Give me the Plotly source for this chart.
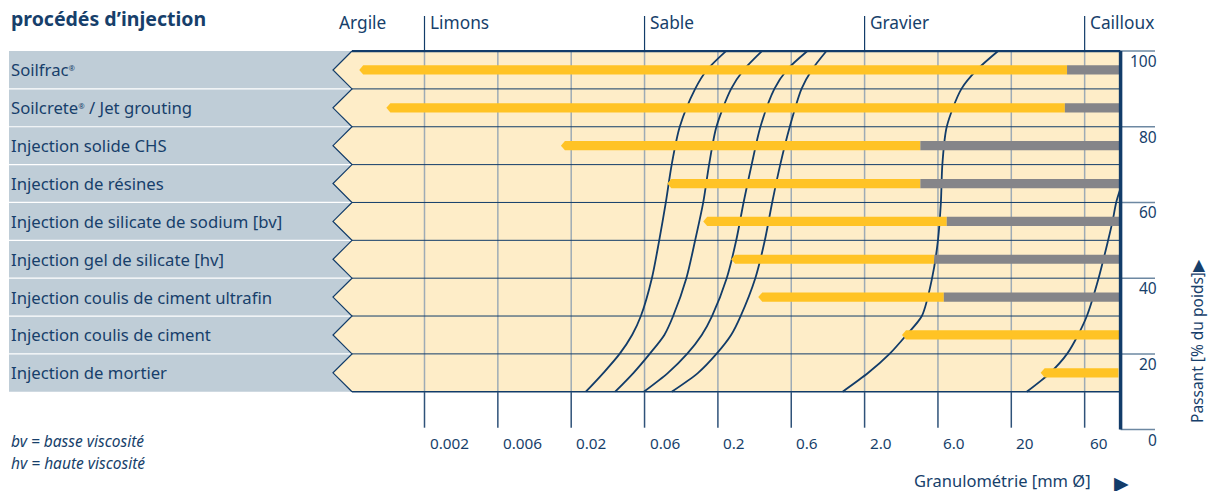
import plotly.graph_objects as go

# ---------------- data ----------------
SUP = "<span style='font-size:11px'><sup>®</sup></span>"
procedes = [
    "Soilfrac" + SUP,
    "Soilcrete" + SUP + " / Jet grouting",
    "Injection solide CHS",
    "Injection de résines",
    "Injection de silicate de sodium [bv]",
    "Injection gel de silicate [hv]",
    "Injection coulis de ciment ultrafin",
    "Injection coulis de ciment",
    "Injection de mortier",
]
# positions on the grain-size scale (0 = tick 0.002 mm, 1 = tick 0.006 mm, ...)
debut_jaune = [-0.89, -0.52, 1.86, 3.31, 3.80, 4.18, 4.55, 6.51, 8.40]
fin_jaune = [8.76, 8.73, 6.76, 6.76, 7.12, 6.95, 7.08, 9.49, 9.46]
fin_gris = [9.49, 9.49, 9.49, 9.49, 9.49, 9.49, 9.49, None, None]

graduations = ["0.002", "0.006", "0.02", "0.06", "0.2", "0.6", "2.0", "6.0", "20", "60"]
classes = ["Argile", "Limons", "Sable", "Gravier", "Cailloux"]
classes_pos = [-1.19, 0, 3, 6, 9]
classes_trait = [False, True, True, True, True]
passant_ticks = [0, 20, 40, 60, 80, 100]

# grading curves: passing percentage vs position on grain-size scale
courbe_pct = [10, 15, 20, 25, 30, 40, 50, 60, 70, 80, 90, 95, 100]
courbe1 = [2.20, 2.44, 2.66, 2.83, 2.95, 3.10, 3.20, 3.29, 3.37, 3.48, 3.69, 3.85, 4.11]
courbe2 = [2.60, 2.85, 3.07, 3.27, 3.39, 3.57, 3.69, 3.80, 3.88, 3.98, 4.18, 4.35, 4.60]
courbe3 = [2.99, 3.32, 3.58, 3.78, 3.92, 4.12, 4.25, 4.35, 4.46, 4.58, 4.77, 4.94, 5.22]
courbe4 = [3.37, 3.73, 3.98, 4.18, 4.31, 4.51, 4.64, 4.74, 4.85, 4.98, 5.14, 5.28, 5.48]
courbe5 = [5.70, 6.05, 6.34, 6.57, 6.78, 6.92, 7.00, 7.04, 7.06, 7.12, 7.32, 7.53, 7.82]
courbe6_pct = [10, 15, 20, 25, 30, 40, 50, 55, 60, 63.8]
courbe6 = [8.21, 8.53, 8.76, 8.91, 9.03, 9.19, 9.32, 9.38, 9.43, 9.49]

# ---------------- style / geometry ----------------
W, H = 1208, 491
PX_PER_UNIT = 73.35
X0_PX = 424.5
PX_PER_PCT = 3.7856
Y0_PX = 429.6
NAVY = "#123c69"
TEXT = "#173f6b"
BEIGE = "#feedc8"
PANEL = "#bfcdd7"
YELLOW = "#ffc325"
GREY = "#858589"
GRID = "#9eabb5"
FONT = "Noto Sans"

xr = [(0 - X0_PX) / PX_PER_UNIT, (W - X0_PX) / PX_PER_UNIT]
yr = [(Y0_PX - H) / PX_PER_PCT, Y0_PX / PX_PER_PCT]


def upx(px):
    return (px - X0_PX) / PX_PER_UNIT


def ppx(py):
    return (Y0_PX - py) / PX_PER_PCT


RIGHT = 9.49
CORNER = upx(352)
TIP = upx(333)
PANEL_L = upx(9)
TOP, BOT = 100, 10
n = len(procedes)
bounds = [TOP - 10 * i for i in range(n + 1)]
centers = [TOP - 5 - 10 * i for i in range(n)]

fig = go.Figure()
shapes = []

# grey label panel
shapes.append(dict(type="rect", x0=PANEL_L, x1=CORNER, y0=BOT, y1=TOP,
                   fillcolor=PANEL, line=dict(width=0), layer="below"))
for b in bounds[1:-1]:
    shapes.append(dict(type="line", x0=PANEL_L, x1=CORNER, y0=b, y1=b,
                       line=dict(color="white", width=1.2), layer="below"))

# beige area with zigzag left edge
path = f"M {RIGHT},{TOP} L {CORNER},{TOP} "
for i in range(n):
    path += f"L {TIP},{centers[i]} L {CORNER},{bounds[i+1]} "
path += f"L {RIGHT},{BOT} Z"
shapes.append(dict(type="path", path=path, fillcolor=BEIGE, line=dict(width=0), layer="below"))

# vertical grid lines
for i in range(len(graduations)):
    shapes.append(dict(type="line", x0=i, x1=i, y0=BOT, y1=TOP,
                       line=dict(color=GRID, width=1.5), layer="below"))
# row lines
for b in bounds[1:-1]:
    shapes.append(dict(type="line", x0=CORNER, x1=RIGHT, y0=b, y1=b,
                       line=dict(color=NAVY, width=1), layer="below"))
shapes.append(dict(type="line", x0=CORNER, x1=RIGHT, y0=TOP, y1=TOP,
                   line=dict(color=NAVY, width=2.2), layer="below"))
shapes.append(dict(type="line", x0=CORNER, x1=RIGHT, y0=BOT, y1=BOT,
                   line=dict(color=NAVY, width=1.5), layer="below"))
# zigzag outline
zz = f"M {CORNER},{TOP} "
for i in range(n):
    zz += f"L {TIP},{centers[i]} L {CORNER},{bounds[i+1]} "
shapes.append(dict(type="path", path=zz, line=dict(color=NAVY, width=1.2), layer="below"))

# bottom tick lines
for i in range(len(graduations)):
    shapes.append(dict(type="line", x0=i, x1=i, y0=BOT, y1=ppx(427.7),
                       line=dict(color="#2f5279", width=1.5)))
# top class lines
for p, t in zip(classes_pos, classes_trait):
    if t:
        shapes.append(dict(type="line", x0=p, x1=p, y0=TOP, y1=ppx(16),
                           line=dict(color=NAVY, width=1.2)))
# right axis ticks
for v in passant_ticks:
    shapes.append(dict(type="line", x0=RIGHT, x1=upx(1155), y0=v, y1=v,
                       line=dict(color="#6d88a2", width=1.5)))
# right thick border
shapes.append(dict(type="line", x0=RIGHT, x1=RIGHT, y0=0, y1=TOP,
                   line=dict(color=NAVY, width=3.5)))

# curves
for xs, ys in [(courbe1, courbe_pct), (courbe2, courbe_pct), (courbe3, courbe_pct),
               (courbe4, courbe_pct), (courbe5, courbe_pct), (courbe6, courbe6_pct)]:
    fig.add_trace(go.Scatter(x=xs, y=ys, mode="lines",
                             line=dict(color=NAVY, width=1.8, shape="spline", smoothing=0.8),
                             hoverinfo="skip", showlegend=False))

# bars
h = 1.22
d = 4 / PX_PER_UNIT
for s, e, g, yc in zip(debut_jaune, fin_jaune, fin_gris, centers):
    fig.add_trace(go.Scatter(
        x=[s, s + d, e, e, s + d, s], y=[yc, yc + h, yc + h, yc - h, yc - h, yc],
        mode="lines", fill="toself", fillcolor=YELLOW, line=dict(width=0),
        hoverinfo="skip", showlegend=False))
    if g is not None:
        fig.add_trace(go.Scatter(
            x=[e, g, g, e, e], y=[yc + h, yc + h, yc - h, yc - h, yc + h],
            mode="lines", fill="toself", fillcolor=GREY, line=dict(width=0),
            hoverinfo="skip", showlegend=False))

ann = []
for lab, yc in zip(procedes, centers):
    ann.append(dict(x=PANEL_L, y=yc, text=lab, xanchor="left", yanchor="middle",
                    showarrow=False, font=dict(family=FONT, size=16.7, color=TEXT)))
for i, lab in enumerate(graduations):
    ann.append(dict(x=i, y=ppx(443), text=lab, xanchor="left", yanchor="middle", xshift=3,
                    showarrow=False, font=dict(family=FONT, size=15.3, color=TEXT)))
for lab, p, t in zip(classes, classes_pos, classes_trait):
    ann.append(dict(x=p, y=ppx(22), text=lab, xanchor="left", yanchor="middle",
                    xshift=3 if t else 0,
                    showarrow=False, font=dict(family=FONT, size=17.3, color=TEXT)))
for v in passant_ticks:
    ann.append(dict(x=upx(1159), y=v, text=str(v), xanchor="right", yanchor="middle", yshift=-10,
                    showarrow=False, font=dict(family=FONT, size=15.5, color=TEXT)))
ann.append(dict(x=upx(1197), y=ppx(341), text="Passant [% du poids]▶", textangle=-90,
                xanchor="center", yanchor="middle", showarrow=False,
                font=dict(family=FONT, size=15.5, color=TEXT)))
ann.append(dict(x=upx(912), y=ppx(480), text="Granulométrie [mm Ø]", xanchor="left", yanchor="middle",
                showarrow=False, font=dict(family=FONT, size=16.5, color=TEXT)))
ann.append(dict(x=upx(1121), y=ppx(483), text="▶", xanchor="center", yanchor="middle",
                showarrow=False, font=dict(family=FONT, size=19, color=NAVY)))
ann.append(dict(x=PANEL_L, y=ppx(441), text="<i>bv = basse viscosité</i>", xanchor="left", yanchor="middle",
                showarrow=False, font=dict(family=FONT, size=15.5, color=TEXT)))
ann.append(dict(x=PANEL_L, y=ppx(463), text="<i>hv = haute viscosité</i>", xanchor="left", yanchor="middle",
                showarrow=False, font=dict(family=FONT, size=15.5, color=TEXT)))
ann.append(dict(x=PANEL_L, y=ppx(18), text="<b>procédés d’injection</b>", xanchor="left", yanchor="middle",
                showarrow=False, font=dict(family=FONT, size=19.5, color=TEXT)))
ann.append(dict(x=PANEL_L, y=ppx(-3), text="<b>Champ d’application des</b>", xanchor="left", yanchor="middle",
                showarrow=False, font=dict(family=FONT, size=19.5, color=TEXT)))

fig.update_layout(
    width=W, height=H, margin=dict(l=0, r=0, t=0, b=0),
    paper_bgcolor="white", plot_bgcolor="white",
    xaxis=dict(range=xr, visible=False, fixedrange=True),
    yaxis=dict(range=yr, visible=False, fixedrange=True),
    shapes=shapes, annotations=ann, showlegend=False,
)
fig.write_html("out.html", config={"displayModeBar": False, "staticPlot": True},
               post_script="document.body.style.margin='0';document.body.style.overflow='hidden';")
